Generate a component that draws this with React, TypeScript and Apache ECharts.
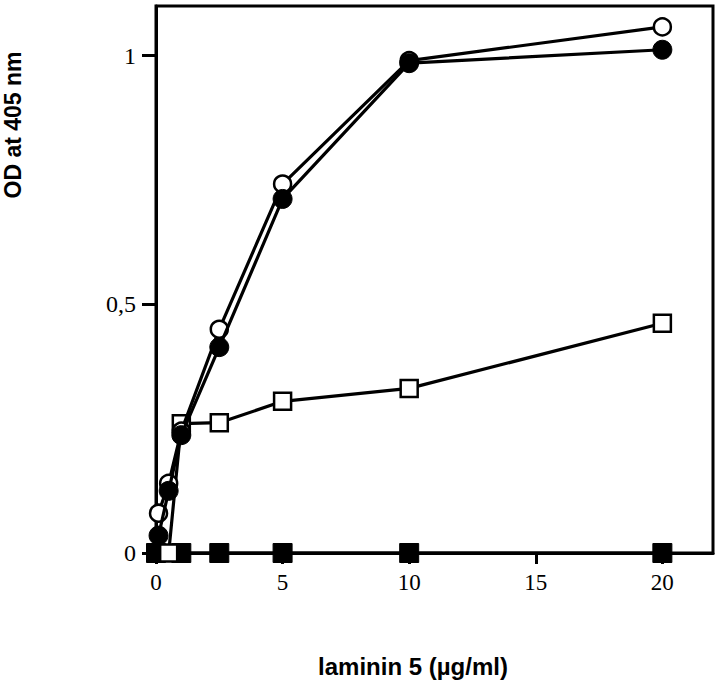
import React, { useEffect, useRef } from "react";
import * as echarts from "echarts";

const openCircles: [number, number][] = [
  [0.1, 0.08], [0.5, 0.14], [1, 0.245], [2.5, 0.45], [5, 0.742], [10, 0.99], [20, 1.058],
];
const filledCircles: [number, number][] = [
  [0.1, 0.035], [0.5, 0.125], [1, 0.237], [2.5, 0.414], [5, 0.712], [10, 0.985], [20, 1.012],
];
const openSquares: [number, number][] = [
  [0.5, 0], [1, 0.26], [2.5, 0.262], [5, 0.305], [10, 0.331], [20, 0.462],
];
const filledSquares: [number, number][] = [
  [0, 0], [1, 0], [2.5, 0], [5, 0], [10, 0], [20, 0],
];
const xTicks = [0, 5, 10, 15, 20];
const yTicks = [0, 0.5, 1];
const xTitle = "laminin 5 (\u00b5g/ml)";
const yTitle = "OD at 405 nm";

export default function App() {
  const ref = useRef<HTMLDivElement>(null);
  useEffect(() => {
    if (!ref.current) return;
    const chart = echarts.init(ref.current, null, { renderer: "svg" });
    const lineStyle = { color: "#000", width: 3.2 };
    const serif = "'Liberation Serif', 'Times New Roman', serif";
    const sans = "'Liberation Sans', Arial, sans-serif";
    chart.setOption({
      animation: false,
      backgroundColor: "#fff",
      grid: {
        left: 156, right: 7, top: 6, bottom: 129,
        show: true, borderColor: "#000", borderWidth: 3, backgroundColor: "transparent",
      },
      xAxis: {
        type: "value", min: 0, max: 22, interval: 5,
        axisLine: { show: true, lineStyle: { color: "#000", width: 3 } },
        axisTick: { show: true, length: 11, lineStyle: { color: "#000", width: 3 }, customValues: xTicks },
        axisLabel: {
          customValues: xTicks, color: "#000", fontFamily: serif, fontSize: 23, margin: 18,
        },
        splitLine: { show: false },
      },
      yAxis: {
        type: "value", min: 0, max: 1.1,
        axisLine: { show: true, lineStyle: { color: "#000", width: 3 } },
        axisTick: { show: true, length: 14, lineStyle: { color: "#000", width: 3 }, customValues: yTicks },
        axisLabel: {
          customValues: yTicks, color: "#000", fontFamily: serif, fontSize: 24, margin: 20,
          formatter: (v: number) => String(v).replace(".", ","),
        },
        splitLine: { show: false },
      },
      graphic: [
        {
          type: "text", x: 413, y: 666,
          style: { text: xTitle, fill: "#000", font: `bold 24px ${sans}`, align: "center", verticalAlign: "middle" },
        },
        {
          type: "text", x: 13, y: 125, rotation: Math.PI / 2,
          style: { text: yTitle, fill: "#000", font: `bold 23px ${sans}`, align: "center", verticalAlign: "middle" },
        },
      ],
      series: [
        {
          type: "line", data: filledSquares, symbol: "rect", symbolSize: 19,
          lineStyle, itemStyle: { color: "#000", borderColor: "#000" }, z: 2,
        },
        {
          type: "line", data: openSquares, symbol: "rect", symbolSize: 17,
          lineStyle, itemStyle: { color: "#fff", borderColor: "#000", borderWidth: 2.5 }, z: 3,
        },
        {
          type: "line", data: openCircles, symbol: "circle", symbolSize: 17,
          lineStyle, itemStyle: { color: "#fff", borderColor: "#000", borderWidth: 2.5 }, z: 4,
        },
        {
          type: "line", data: filledCircles, symbol: "circle", symbolSize: 19,
          lineStyle, itemStyle: { color: "#000", borderColor: "#000" }, z: 5,
        },
      ],
    });
    return () => chart.dispose();
  }, []);
  return <div ref={ref} style={{ width: 720, height: 682, position: "fixed", left: 0, top: 0 }} />;
}
